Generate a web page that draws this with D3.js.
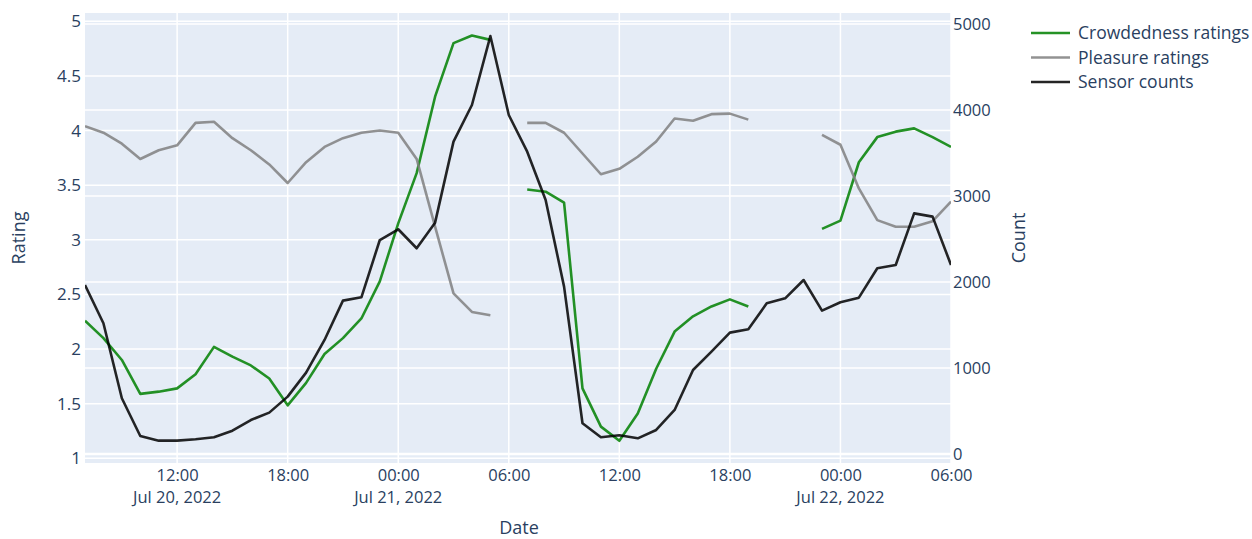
<!DOCTYPE html>
<html>
<head>
<meta charset="utf-8">
<script src="https://cdn.jsdelivr.net/npm/d3@7"></script>
<style>
  body { margin: 0; background: #fff; }
  text { font-family: "Open Sans", verdana, arial, sans-serif; fill: #2a3f5f; }
</style>
</head>
<body>
<div id="chart"></div>
<script>
// hourly data, Jul 20 07:00 -> Jul 22 06:00 (null = no data)
var startTime = new Date(2022, 6, 20, 7);
var endTime = new Date(2022, 6, 22, 6);

var crowdedness = [2.26, 2.10, 1.90, 1.59, 1.61, 1.64, 1.77, 2.02, 1.93, 1.85, 1.73, 1.485,
  1.69, 1.955, 2.10, 2.28, 2.62, 3.15, 3.61, 4.31, 4.80, 4.87, 4.83, null,
  3.46, 3.44, 3.34, 1.64, 1.29, 1.16, 1.41, 1.82, 2.16, 2.30, 2.39, 2.455,
  2.39, null, null, null, 3.10, 3.175, 3.71, 3.94, 3.99, 4.02, 3.94, 3.85];

var pleasure = [4.04, 3.98, 3.88, 3.74, 3.82, 3.865, 4.07, 4.08, 3.93, 3.82, 3.69, 3.52,
  3.71, 3.85, 3.93, 3.98, 4.00, 3.98, 3.74, 3.12, 2.51, 2.34, 2.31, null,
  4.07, 4.07, 3.98, 3.79, 3.60, 3.65, 3.76, 3.90, 4.11, 4.09, 4.15, 4.155,
  4.10, null, null, null, 3.96, 3.87, 3.47, 3.18, 3.12, 3.12, 3.17, 3.35];

var sensorCounts = [1965, 1520, 648, 209, 155, 155, 171, 194, 271, 395, 481, 667,
  946, 1326, 1783, 1822, 2488, 2613, 2392, 2690, 3632, 4058, 4860, 3942,
  3515, 2953, 1946, 357, 194, 217, 182, 279, 512, 977, 1190, 1411,
  1450, 1752, 1810, 2023, 1667, 1764, 1818, 2159, 2198, 2798, 2760, 2198];

var ratingTicks = [1, 1.5, 2, 2.5, 3, 3.5, 4, 4.5, 5];
var countTicks = [0, 1000, 2000, 3000, 4000, 5000];
var seriesNames = ["Crowdedness ratings", "Pleasure ratings", "Sensor counts"];
var seriesColors = ["#008000", "#808080", "#000000"];

var svgWidth = 1252;
var svgHeight = 539;
var plot = { left: 85, right: 951, top: 13, bottom: 463 };

var svg = d3.select("#chart").append("svg")
  .attr("width", svgWidth)
  .attr("height", svgHeight);

var hours = d3.range(crowdedness.length).map(function(i) {
  return d3.timeHour.offset(startTime, i);
});

var xScale = d3.scaleTime()
  .domain([startTime, endTime])
  .range([plot.left, plot.right]);

var yRating = d3.scaleLinear()
  .domain([0.957, 5.076])
  .range([plot.bottom, plot.top]);

var yCount = d3.scaleLinear()
  .domain([-105, 5128])
  .range([plot.bottom, plot.top]);

// background
svg.append("rect")
  .attr("x", plot.left)
  .attr("y", plot.top)
  .attr("width", plot.right - plot.left)
  .attr("height", plot.bottom - plot.top)
  .attr("fill", "#E5ECF6");

// x ticks every 6 hours
var xTicks = d3.timeHour.every(6).range(startTime, d3.timeMinute.offset(endTime, 1));

// grid lines
var grid = svg.append("g").attr("stroke", "#fff").attr("stroke-width", 1.5);
grid.selectAll(".xg").data(xTicks).enter().append("line")
  .attr("x1", d => xScale(d)).attr("x2", d => xScale(d))
  .attr("y1", plot.top).attr("y2", plot.bottom);
grid.selectAll(".yg").data(ratingTicks).enter().append("line")
  .attr("x1", plot.left).attr("x2", plot.right)
  .attr("y1", d => yRating(d)).attr("y2", d => yRating(d));
grid.selectAll(".cg").data(countTicks).enter().append("line")
  .attr("x1", plot.left).attr("x2", plot.right)
  .attr("y1", d => yCount(d)).attr("y2", d => yCount(d))
  .attr("stroke-width", d => d === 0 ? 2.5 : 1.5);

// axes
var timeFmt = d3.timeFormat("%H:%M");
var dateFmt = d3.timeFormat("%b %-d, %Y");

var xAxis = svg.append("g")
  .attr("transform", `translate(0, ${plot.bottom})`)
  .call(d3.axisBottom(xScale).tickValues(xTicks).tickSize(0).tickPadding(6).tickFormat(timeFmt));
xAxis.select(".domain").remove();
xAxis.selectAll("text").style("font-size", "16.5px");

// second line of the date ticks
var dateTicks = xTicks.filter((d, i) => i === 0 || d.getHours() === 0);
svg.append("g").selectAll("text")
  .data(dateTicks)
  .enter()
  .append("text")
  .attr("x", d => xScale(d))
  .attr("y", plot.bottom + 40)
  .attr("text-anchor", "middle")
  .style("font-size", "16.5px")
  .text(d => dateFmt(d));

var leftAxis = svg.append("g")
  .attr("transform", `translate(${plot.left}, 0)`)
  .call(d3.axisLeft(yRating).tickValues(ratingTicks).tickSize(0).tickPadding(4).tickFormat(d3.format("")));
leftAxis.select(".domain").remove();
leftAxis.selectAll("text").style("font-size", "17px");

var rightAxis = svg.append("g")
  .attr("transform", `translate(${plot.right}, 0)`)
  .call(d3.axisRight(yCount).tickValues(countTicks).tickSize(0).tickPadding(2).tickFormat(d3.format("d")));
rightAxis.select(".domain").remove();
rightAxis.selectAll("text").style("font-size", "16.5px");

// axis titles
svg.append("text")
  .attr("transform", "translate(19, 238) rotate(-90)")
  .attr("text-anchor", "middle")
  .attr("dy", "0.35em")
  .style("font-size", "18px")
  .text("Rating");

svg.append("text")
  .attr("transform", "translate(1019, 238) rotate(-90)")
  .attr("text-anchor", "middle")
  .attr("dy", "0.35em")
  .style("font-size", "18px")
  .text("Count");

svg.append("text")
  .attr("x", 519)
  .attr("y", 528)
  .attr("text-anchor", "middle")
  .attr("dy", "0.35em")
  .style("font-size", "18px")
  .text("Date");

// lines
svg.append("clipPath").attr("id", "plotclip")
  .append("rect")
  .attr("x", plot.left).attr("y", plot.top)
  .attr("width", plot.right - plot.left).attr("height", plot.bottom - plot.top);

var lineGroup = svg.append("g").attr("clip-path", "url(#plotclip)");

function drawLine(values, yScale, color) {
  var line = d3.line()
    .defined(d => d != null)
    .x((d, i) => xScale(hours[i]))
    .y(d => yScale(d));
  lineGroup.append("path")
    .datum(values)
    .attr("d", line)
    .attr("fill", "none")
    .attr("stroke", color)
    .attr("stroke-width", 2.6)
    .attr("stroke-linejoin", "round")
    .attr("opacity", 0.85);
}

drawLine(crowdedness, yRating, seriesColors[0]);
drawLine(pleasure, yRating, seriesColors[1]);
drawLine(sensorCounts, yCount, seriesColors[2]);

// legend
var legend = svg.append("g").attr("transform", "translate(1031, 33)");
seriesNames.forEach(function(name, i) {
  var row = legend.append("g").attr("transform", `translate(0, ${i * 24.5})`);
  row.append("line")
    .attr("x1", 0).attr("x2", 39)
    .attr("stroke", seriesColors[i])
    .attr("stroke-width", 2.6)
    .attr("opacity", 0.85);
  row.append("text")
    .attr("x", 47)
    .attr("dy", "0.35em")
    .style("font-size", "17.5px")
    .text(name);
});
</script>
</body>
</html>
